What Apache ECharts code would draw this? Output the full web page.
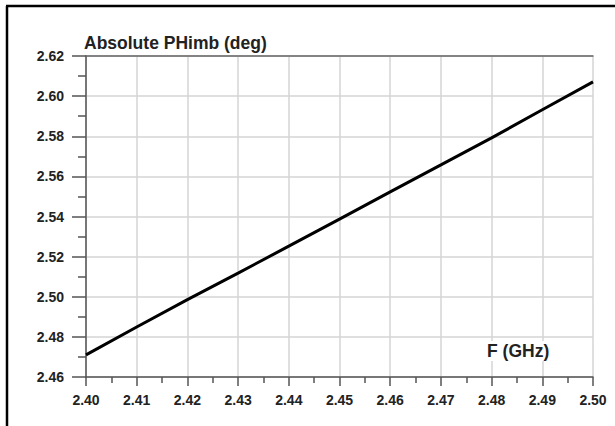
<!DOCTYPE html>
<html>
<head>
<meta charset="utf-8">
<script src="https://cdn.jsdelivr.net/npm/echarts@6/dist/echarts.min.js"></script>
<style>
  html, body { margin: 0; padding: 0; background: #fff; }
  #chart { width: 615px; height: 426px; }
</style>
</head>
<body>
<div id="chart"></div>
<script>
// 频率 (GHz) 与对应的相位不平衡 (deg)
const freqs = [2.40, 2.41, 2.42, 2.43, 2.44, 2.45, 2.46, 2.47, 2.48, 2.49, 2.50];
const phimb = [2.471, 2.4849, 2.4986, 2.5118, 2.5252, 2.5387, 2.5523, 2.5657, 2.5792, 2.5932, 2.6071];
const yTitle = 'Absolute PHimb (deg)';
const xTitle = 'F (GHz)';

const labelFont = {
  fontFamily: 'Liberation Sans, Arial, sans-serif',
  fontWeight: 'bold',
  fontSize: 14,
  color: '#222'
};

let myChart = echarts.init(document.getElementById('chart'), null, {renderer: 'svg'});

let option = {
  animation: false,
  grid: { left: 86, right: 22, top: 56, bottom: 49 },
  xAxis: [
    {
      type: 'value',
      min: 2.40,
      max: 2.50,
      interval: 0.01,
      axisLine: { show: true, onZero: false, lineStyle: { color: '#555', width: 1.5 } },
      axisTick: { show: true, inside: false, length: 9, lineStyle: { color: '#555', width: 1.5 } },
      minorTick: { show: true, splitNumber: 2, length: 6, lineStyle: { color: '#555', width: 1.5 } },
      axisLabel: Object.assign({ margin: 16, formatter: (v) => v.toFixed(2) }, labelFont),
      splitLine: { show: true, lineStyle: { color: '#d4d4d4', width: 1.5 } }
    },
    {
      // 顶部的深色边线
      type: 'value',
      position: 'top',
      min: 2.40,
      max: 2.50,
      axisLine: { show: true, lineStyle: { color: '#666', width: 1.5 } },
      axisTick: { show: false },
      axisLabel: { show: false },
      splitLine: { show: false }
    }
  ],
  yAxis: {
    type: 'value',
    min: 2.46,
    max: 2.62,
    interval: 0.02,
    axisLine: { show: true, onZero: false, lineStyle: { color: '#555', width: 1.5 } },
    axisTick: { show: true, inside: false, length: 14, lineStyle: { color: '#555', width: 1.5 } },
    minorTick: { show: true, splitNumber: 2, length: 8, lineStyle: { color: '#555', width: 1.5 } },
    axisLabel: Object.assign({ margin: 22, formatter: (v) => v.toFixed(2) }, labelFont),
    splitLine: { show: true, lineStyle: { color: '#d4d4d4', width: 1.5 } }
  },
  graphic: [
    // 外框（上边和左边）
    { type: 'line', shape: { x1: 6, y1: 6, x2: 615, y2: 6 }, style: { stroke: '#000', lineWidth: 2.5 } },
    { type: 'line', shape: { x1: 7, y1: 6, x2: 7, y2: 426 }, style: { stroke: '#000', lineWidth: 2.5 } },
    {
      type: 'text', left: 84, top: 34,
      style: { text: yTitle, font: 'bold 17.5px "Liberation Sans", Arial, sans-serif', fill: '#222' }
    },
    {
      type: 'text', left: 485, top: 341, z: 10,
      style: {
        text: xTitle, font: 'bold 17.5px "Liberation Sans", Arial, sans-serif', fill: '#222',
        backgroundColor: '#fff', padding: [1, 2]
      }
    }
  ],
  series: [
    {
      type: 'line',
      data: freqs.map((f, i) => [f, phimb[i]]),
      showSymbol: false,
      lineStyle: { color: '#000', width: 3 }
    }
  ]
};

myChart.setOption(option);
</script>
</body>
</html>
